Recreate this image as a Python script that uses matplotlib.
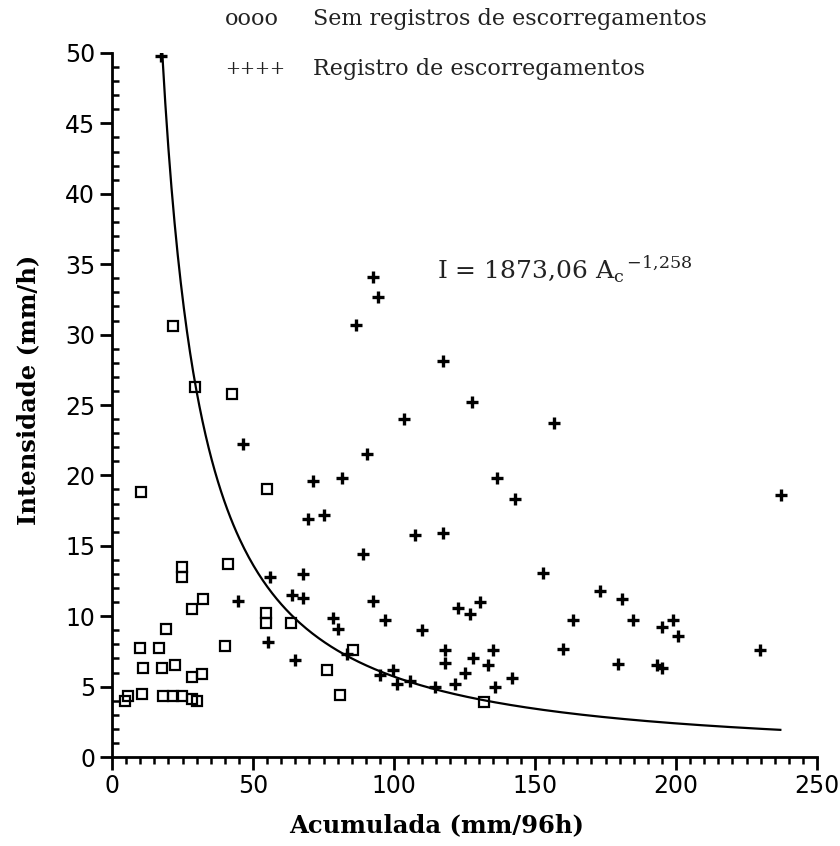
import matplotlib
matplotlib.use("Agg")
import matplotlib.pyplot as plt
import numpy as np
from matplotlib.ticker import MultipleLocator

# ---- data ----
sem_x = [4.6, 5.5, 10.5, 18.2, 21.7, 24.7, 28.2, 30.0,
         11.0, 17.6, 22.3, 28.3, 31.8,
         9.9, 16.8, 19.1, 28.3, 32.4, 24.7, 24.7, 41.2, 40.2,
         54.5, 54.5, 63.5, 76.4, 85.6, 80.9, 132.0,
         10.2, 55.1, 29.4, 42.4, 21.7]
sem_y = [4.0, 4.3, 4.5, 4.3, 4.3, 4.3, 4.1, 4.0,
         6.3, 6.3, 6.5, 5.7, 5.9,
         7.75, 7.75, 9.1, 10.5, 11.2, 13.5, 12.8, 13.7, 7.9,
         10.2, 9.5, 9.5, 6.2, 7.6, 4.4, 3.9,
         18.8, 19.0, 26.3, 25.8, 30.6]

reg_x = [17.4, 92.4, 94.4, 86.5, 117.5, 127.5, 103.5, 156.7,
         46.3, 90.3, 71.2, 81.4, 136.4, 142.9, 69.6, 75.2,
         107.4, 117.2, 89.1, 56.0, 67.8, 63.7, 67.8, 44.8, 55.4,
         64.9, 78.5, 80.3, 83.2, 92.7, 96.8, 95.0, 99.8, 101.0,
         105.7, 109.8, 114.5, 121.6, 118.1, 118.1, 122.8, 127.0,
         130.5, 128.1, 135.2, 133.5, 125.2, 141.7, 135.8, 152.9,
         173.0, 180.7, 163.6, 160.0, 179.5, 184.6, 194.9, 199.0,
         200.8, 193.1, 194.9, 229.8, 237.4]
reg_y = [49.8, 34.1, 32.7, 30.7, 28.1, 25.2, 24.0, 23.7,
         22.2, 21.5, 19.6, 19.8, 19.8, 18.3, 16.9, 17.2,
         15.8, 15.9, 14.4, 12.8, 13.0, 11.5, 11.3, 11.1, 8.2,
         6.9, 9.9, 9.1, 7.3, 11.1, 9.7, 5.8, 6.2, 5.2,
         5.4, 9.0, 5.0, 5.2, 7.6, 6.7, 10.6, 10.15,
         11.0, 7.0, 7.6, 6.5, 6.0, 5.6, 5.0, 13.1,
         11.8, 11.2, 9.7, 7.7, 6.6, 9.7, 9.2, 9.7,
         8.6, 6.5, 6.3, 7.6, 18.6]

# fitted threshold curve stated on the chart: I = 1873,06 Ac^-1,258
coef_a = 1873.06
coef_b = -1.258
curve_range = (17.8, 237.0)

x_ticks = [0, 50, 100, 150, 200, 250]
y_ticks = [0, 5, 10, 15, 20, 25, 30, 35, 40, 45, 50]

# ---- figure ----
W, H = 840, 846
fig = plt.figure(figsize=(W / 100, H / 100), dpi=100)
ax = fig.add_axes([112 / W, 1 - 757 / H, (817 - 112) / W, (757 - 53) / H])

ac = np.linspace(curve_range[0], curve_range[1], 400)
ax.plot(ac, coef_a * ac ** coef_b, color="black", lw=1.6)

ax.plot(sem_x, sem_y, linestyle="none", marker="s", ms=7, mfc="none",
        mec="black", mew=1.6)
ax.plot(reg_x, reg_y, linestyle="none", marker="+", ms=8, mec="black",
        mew=2.4)

ax.set_xlim(0, 250)
ax.set_ylim(0, 50)
ax.set_xticks(x_ticks)
ax.set_yticks(y_ticks)
ax.xaxis.set_minor_locator(MultipleLocator(5))
ax.yaxis.set_minor_locator(MultipleLocator(1))
for s in ["top", "right"]:
    ax.spines[s].set_visible(False)
for s in ["left", "bottom"]:
    ax.spines[s].set_linewidth(2.0)
ax.tick_params(which="major", direction="out", length=9, width=2,
               labelsize=17, pad=3)
ax.tick_params(axis="y", which="minor", direction="in", length=5, width=1.8)
ax.tick_params(axis="x", which="minor", direction="out", length=5, width=1.8)
for lab in ax.get_xticklabels() + ax.get_yticklabels():
    lab.set_family("DejaVu Sans")

serif = "DejaVu Serif"
fig.text(437 / W, 1 - 825 / H, "Acumulada (mm/96h)", ha="center", va="center",
         family=serif, fontweight="bold", fontsize=17.5)
fig.text(28 / W, 1 - 390 / H, "Intensidade (mm/h)", ha="center", va="center",
         rotation=90, family=serif, fontweight="bold", fontsize=17.5)

# legend-like header
hdr_color = "#222222"
fig.text(225 / W, 1 - 19 / H, "oooo", ha="left", va="center", family=serif,
         fontsize=16, color=hdr_color)
fig.text(313 / W, 1 - 19 / H, "Sem registros de escorregamentos", ha="left",
         va="center", family=serif, fontsize=16, color=hdr_color)
fig.text(225 / W, 1 - 69 / H, "++++", ha="left", va="center", family=serif,
         fontsize=13, color=hdr_color)
fig.text(313 / W, 1 - 69 / H, "Registro de escorregamentos", ha="left",
         va="center", family=serif, fontsize=16, color=hdr_color)

plt.rcParams["mathtext.fontset"] = "custom"
plt.rcParams["mathtext.rm"] = serif
fig.text(437 / W, 1 - 270 / H,
         r"I = 1873,06 A$_\mathrm{c}$$^{\,\mathrm{-1{,}258}}$",
         ha="left", va="center", family=serif, fontsize=18, color=hdr_color)

fig.savefig("out.png", dpi=100)
